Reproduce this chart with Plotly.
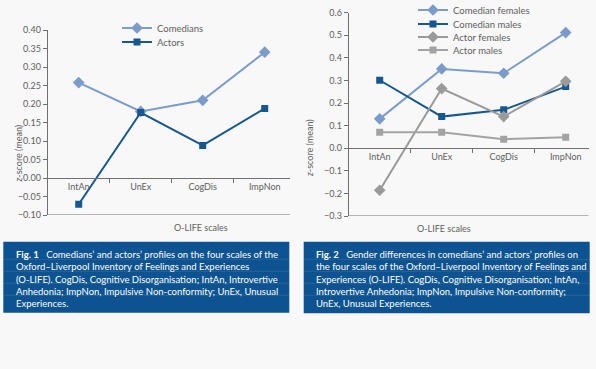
import plotly.graph_objects as go

W, H = 596, 369

scales = ["IntAn", "UnEx", "CogDis", "ImpNon"]

comedians = [0.258, 0.180, 0.210, 0.340]
actors = [-0.071, 0.177, 0.088, 0.188]

comedian_females = [0.130, 0.351, 0.332, 0.512]
comedian_males = [0.301, 0.140, 0.170, 0.273]
actor_females = [-0.186, 0.264, 0.140, 0.296]
actor_males = [0.071, 0.071, 0.040, 0.049]

LIGHT = "#7b9ccb"
DARK = "#17578f"
GREY1 = "#9a9a9a"
GREY2 = "#a3a3a3"
BG = "#f8f8f8"
AXIS = "#707070"
TXT = "#606060"
FONT = "Lato, 'Open Sans', sans-serif"
BOX = "#0d5391"


def px_x(px):
    return px / W


def px_y(py):
    return 1 - py / H


fig = go.Figure()

# ---- Chart 1 ----
fig.add_trace(go.Scatter(x=scales, y=comedians, name="Comedians", mode="lines+markers",
                         line=dict(color=LIGHT, width=2),
                         marker=dict(symbol="diamond", size=9, color=LIGHT),
                         xaxis="x", yaxis="y", legend="legend"))
fig.add_trace(go.Scatter(x=scales, y=actors, name="Actors", mode="lines+markers",
                         line=dict(color=DARK, width=2),
                         marker=dict(symbol="square", size=7, color=DARK),
                         xaxis="x", yaxis="y", legend="legend2"))

# ---- Chart 2 ----
series2 = [
    ("Comedian females", comedian_females, LIGHT, "diamond", 9, "legend3"),
    ("Comedian males", comedian_males, DARK, "square", 7, "legend4"),
    ("Actor females", actor_females, GREY1, "diamond", 9, "legend5"),
    ("Actor males", actor_males, GREY2, "square", 7, "legend6"),
]
for name, vals, col, sym, sz, lg in series2:
    fig.add_trace(go.Scatter(x=scales, y=vals, name=name, mode="lines+markers",
                             line=dict(color=col, width=2),
                             marker=dict(symbol=sym, size=sz, color=col),
                             xaxis="x2", yaxis="y2", legend=lg))

# plot areas (pixels)
p1 = dict(x0=47.7, x1=290.0, y0=30.0, y1=215.0, ymin=-0.10, ymax=0.40, dt=0.05, fmt=".2f")
p2 = dict(x0=348.7, x1=588.5, y0=12.7, y1=216.0, ymin=-0.30, ymax=0.60, dt=0.1, fmt=".1f")

layout = dict(
    width=W, height=H, margin=dict(l=0, r=0, t=0, b=0, autoexpand=False),
    paper_bgcolor=BG, plot_bgcolor=BG, showlegend=True,
    font=dict(family=FONT, size=9, color=TXT),
)

shapes = []
annotations = []

for i, p in enumerate([p1, p2]):
    sfx = "" if i == 0 else "2"
    ydom = [px_y(p["y1"]), px_y(p["y0"])]
    zero_pos = ydom[0] + (0 - p["ymin"]) / (p["ymax"] - p["ymin"]) * (ydom[1] - ydom[0])
    span_px = p["x1"] - p["x0"]
    cat_w = 62.0
    xr = [-0.5, -0.5 + span_px / cat_w]
    layout["xaxis" + sfx] = dict(
        domain=[px_x(p["x0"]), px_x(p["x1"])], anchor="free", position=zero_pos,
        type="category", range=xr, showline=True, linecolor=AXIS, linewidth=1,
        ticks="outside", tickson="boundaries", ticklen=4, tickcolor=AXIS,
        showgrid=False, zeroline=False, tickfont=dict(size=9, color=TXT),
        fixedrange=True, automargin=False,
    )
    layout["yaxis" + sfx] = dict(
        domain=ydom, anchor="x" + sfx, range=[p["ymin"], p["ymax"]],
        dtick=p["dt"], tick0=0, tickformat=p["fmt"], showline=True, linecolor=AXIS,
        linewidth=1, ticks="outside", ticklen=4, tickcolor=AXIS, showgrid=False,
        zeroline=False, tickfont=dict(size=9, color=TXT), fixedrange=True, automargin=False,
    )
    # bottom frame line
    shapes.append(dict(type="line", xref="x" + sfx + " domain", yref="y" + sfx,
                       x0=0, x1=1, y0=p["ymin"], y1=p["ymin"],
                       line=dict(color=AXIS, width=1)))

# axis titles
annotations += [
    dict(text="<i>z</i>-score (mean)", textangle=-90, x=px_x(11), y=px_y(123),
         xref="paper", yref="paper", showarrow=False, font=dict(size=9, color=TXT)),
    dict(text="O-LIFE scales", x=px_x(172), y=px_y(227), xref="paper", yref="paper",
         showarrow=False, font=dict(size=9, color=TXT)),
    dict(text="<i>z</i>-score (mean)", textangle=-90, x=px_x(309), y=px_y(117),
         xref="paper", yref="paper", showarrow=False, font=dict(size=9, color=TXT)),
    dict(text="O-LIFE scales", x=px_x(473), y=px_y(228), xref="paper", yref="paper",
         showarrow=False, font=dict(size=9, color=TXT)),
]

# legends
leg_pos = {
    "legend": (137, 28), "legend2": (137, 42),
    "legend3": (433, 10), "legend4": (433, 24), "legend5": (433, 37), "legend6": (433, 50),
}
for k, (mx, my) in leg_pos.items():
    layout[k] = dict(x=px_x(mx - 20), y=px_y(my), xanchor="left", yanchor="middle",
                     bgcolor="rgba(0,0,0,0)", borderwidth=0,
                     font=dict(size=9.5, color=TXT), itemclick=False, itemdoubleclick=False)

# caption boxes
captions = [
    (3.3, 289.3, 241.7, 312.7, 14.3,
     "<b>Fig. 1</b>   Comedians’ and actors’ profiles on the four scales of the<br>"
     "Oxford–Liverpool Inventory of Feelings and Experiences<br>"
     "(O-LIFE). CogDis, Cognitive Disorganisation; IntAn, Introvertive<br>"
     "Anhedonia; ImpNon, Impulsive Non-conformity; UnEx, Unusual<br>"
     "Experiences."),
    (303.7, 589.7, 241.7, 313.3, 314.0,
     "<b>Fig. 2</b>   Gender differences in comedians’ and actors’ profiles on<br>"
     "the four scales of the Oxford–Liverpool Inventory of Feelings and<br>"
     "Experiences (O-LIFE). CogDis, Cognitive Disorganisation; IntAn,<br>"
     "Introvertive Anhedonia; ImpNon, Impulsive Non-conformity;<br>"
     "UnEx, Unusual Experiences."),
]
for x0, x1, y0, y1, tx, txt in captions:
    shapes.append(dict(type="rect", xref="paper", yref="paper",
                       x0=px_x(x0), x1=px_x(x1), y0=px_y(y1), y1=px_y(y0),
                       fillcolor=BOX, line=dict(width=0), layer="below"))
    for sy in [259.3, 271.3, 283.3, 295.3]:
        shapes.append(dict(type="line", xref="paper", yref="paper",
                           x0=px_x(x0), x1=px_x(x1), y0=px_y(sy), y1=px_y(sy),
                           line=dict(color="rgba(255,255,255,0.10)", width=1), layer="below"))
    annotations.append(dict(text=txt, x=px_x(tx), y=px_y(246.5), xref="paper", yref="paper",
                            xanchor="left", yanchor="top", align="left", showarrow=False,
                            font=dict(size=9.5, color="white")))

layout["shapes"] = shapes
layout["annotations"] = annotations
fig.update_layout(**layout)

fig.write_html("out.html", config={"displayModeBar": False, "staticPlot": False},
               post_script="document.body.style.margin='0';document.body.style.overflow='hidden';")
